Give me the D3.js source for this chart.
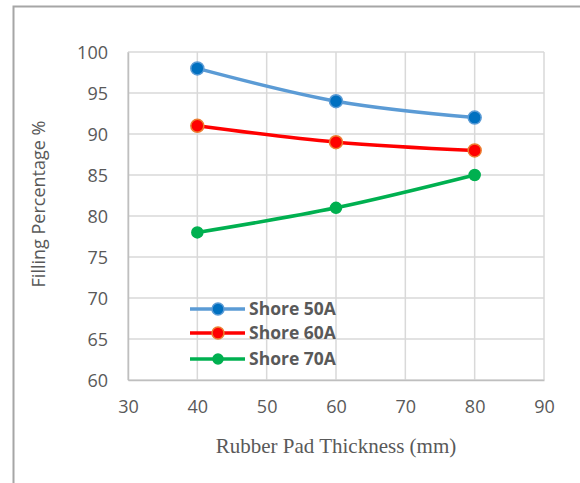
<!DOCTYPE html>
<html>
<head>
<meta charset="utf-8">
<script src="https://cdn.jsdelivr.net/npm/d3@7"></script>
<style>
  html, body { margin: 0; padding: 0; background: #fff; }
  svg { display: block; }
</style>
</head>
<body>
<svg id="chart" width="580" height="483"></svg>
<script>
// Filling percentage vs. rubber pad thickness, by pad hardness
const thickness = [40, 60, 80];
const shore50A = [98, 94, 92];
const shore60A = [91, 89, 88];
const shore70A = [78, 81, 85];
const seriesNames = ["Shore 50A", "Shore 60A", "Shore 70A"];
const xTicks = [30, 40, 50, 60, 70, 80, 90];
const yTicks = [60, 65, 70, 75, 80, 85, 90, 95, 100];

const series = [
  { name: seriesNames[0], values: shore50A, line: "#5B9BD5", fill: "#0070C0", stroke: "#5B9BD5", r: 6.5 },
  { name: seriesNames[1], values: shore60A, line: "#FF0000", fill: "#FF0000", stroke: "#ED7D31", r: 6.5 },
  { name: seriesNames[2], values: shore70A, line: "#00B050", fill: "#00B050", stroke: "#00B050", r: 5.5 }
];

const sans = "'Open Sans', Lato, sans-serif";
const svg = d3.select("#chart");

// outer chart frame (left and top edges visible)
svg.append("path")
  .attr("d", "M13.5,483 L13.5,6.5 L580,6.5")
  .attr("fill", "none")
  .attr("stroke", "#A6A6A6")
  .attr("stroke-width", 2);

const plot = { left: 128, right: 544, top: 52, bottom: 380 };

const x = d3.scaleLinear().domain([30, 90]).range([plot.left, plot.right]);
const y = d3.scaleLinear().domain([60, 100]).range([plot.bottom, plot.top]);

// gridlines
const grid = svg.append("g");
grid.selectAll(".gx").data(xTicks).join("line")
  .attr("x1", d => x(d)).attr("x2", d => x(d))
  .attr("y1", plot.top).attr("y2", plot.bottom)
  .attr("stroke", "#D9D9D9").attr("stroke-width", 1.5);
grid.selectAll(".gy").data(yTicks).join("line")
  .attr("x1", plot.left).attr("x2", plot.right)
  .attr("y1", d => y(d)).attr("y2", d => y(d))
  .attr("stroke", "#D9D9D9").attr("stroke-width", 1.5);

// axes
const xAxis = svg.append("g")
  .attr("transform", `translate(0,${plot.bottom})`)
  .call(d3.axisBottom(x).tickValues(xTicks).tickSize(0).tickPadding(20));
const yAxis = svg.append("g")
  .attr("transform", `translate(${plot.left},0)`)
  .call(d3.axisLeft(y).tickValues(yTicks).tickSize(0).tickPadding(20));

[xAxis, yAxis].forEach(a => {
  a.select(".domain").attr("stroke", "#BFBFBF").attr("stroke-width", 1.5);
  a.selectAll("text")
    .attr("fill", "#595959")
    .style("font-family", sans)
    .style("font-size", "18px");
});
yAxis.selectAll("text").attr("dy", "0.36em");

// axis titles
svg.append("text")
  .attr("transform", `translate(45,204) rotate(-90)`)
  .attr("text-anchor", "middle")
  .attr("fill", "#595959")
  .style("font-family", sans)
  .style("font-size", "18px")
  .text("Filling Percentage %");

svg.append("text")
  .attr("x", 336)
  .attr("y", 453)
  .attr("text-anchor", "middle")
  .attr("fill", "#595959")
  .style("font-family", "'Liberation Serif', 'Times New Roman', serif")
  .style("font-size", "21px")
  .text("Rubber Pad Thickness (mm)");

// smoothed series lines with markers
const line = d3.line()
  .x((d, i) => x(thickness[i]))
  .y(d => y(d))
  .curve(d3.curveCardinal.tension(0));

series.forEach(s => {
  const g = svg.append("g");
  g.append("path")
    .datum(s.values)
    .attr("d", line)
    .attr("fill", "none")
    .attr("stroke", s.line)
    .attr("stroke-width", 3.5)
    .attr("stroke-linecap", "round");
  g.selectAll("circle").data(s.values).join("circle")
    .attr("cx", (d, i) => x(thickness[i]))
    .attr("cy", d => y(d))
    .attr("r", s.r)
    .attr("fill", s.fill)
    .attr("stroke", s.stroke)
    .attr("stroke-width", 1.5);
});

// legend
const legend = svg.append("g");
const legendY = [309, 333, 359];
series.forEach((s, i) => {
  const row = legend.append("g").attr("transform", `translate(0,${legendY[i]})`);
  row.append("line")
    .attr("x1", 190).attr("x2", 245)
    .attr("y1", 0).attr("y2", 0)
    .attr("stroke", s.line).attr("stroke-width", 3.5);
  row.append("circle")
    .attr("cx", 218).attr("cy", 0)
    .attr("r", s.r - 0.5)
    .attr("fill", s.fill)
    .attr("stroke", s.stroke)
    .attr("stroke-width", 1.5);
  row.append("text")
    .attr("x", 249).attr("y", 0)
    .attr("dy", "0.36em")
    .attr("fill", "#595959")
    .style("font-family", sans)
    .style("font-weight", "bold")
    .style("font-size", "17.5px")
    .text(s.name);
});
</script>
</body>
</html>
